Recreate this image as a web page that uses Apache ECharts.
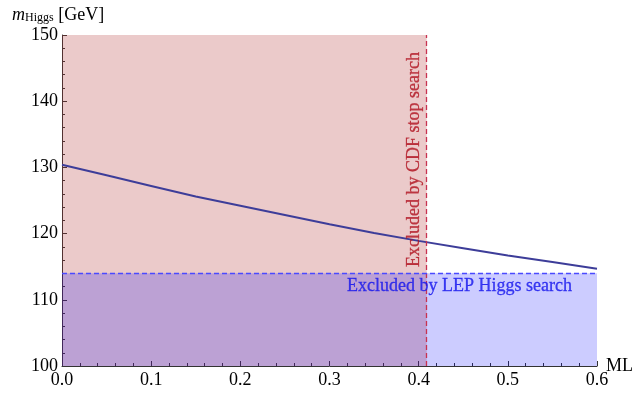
<!DOCTYPE html>
<html>
<head>
<meta charset="utf-8">
<script src="https://cdn.jsdelivr.net/npm/echarts@6/dist/echarts.min.js"></script>
<style>
  html, body { margin: 0; padding: 0; background: #fff; }
  #chart { width: 635px; height: 394px; }
</style>
</head>
<body>
<div id="chart"></div>
<script>
// Higgs mass prediction versus ML
const mlValues = [0, 0.05, 0.1, 0.15, 0.2, 0.25, 0.3, 0.35, 0.4, 0.45, 0.5, 0.55, 0.6];
const mHiggs   = [130.4, 128.8, 127.2, 125.6, 124.2, 122.8, 121.4, 120.1, 118.9, 117.8, 116.7, 115.7, 114.7];

// Excluded regions
const cdfLimitML = 0.409;   // CDF stop search bound on ML
const lepLimitMh = 114;     // LEP Higgs search bound in GeV

const xTicks = [0, 0.1, 0.2, 0.3, 0.4, 0.5, 0.6];
const yTicks = [100, 110, 120, 130, 140, 150];

const xAxisName = 'ML';
const cdfText = 'Excluded by CDF stop search';
const lepText = 'Excluded by LEP Higgs search';

const SERIF = '"Liberation Serif", "DejaVu Serif", serif';
const axisColor = '#333';

const curve = mlValues.map((x, i) => [x, mHiggs[i]]);
const xMax = xTicks[xTicks.length - 1];
const yMin = yTicks[0];
const yMax = yTicks[yTicks.length - 1];

const chart = echarts.init(document.getElementById('chart'));
chart.setOption({
  animation: false,
  backgroundColor: '#fff',
  textStyle: { fontFamily: SERIF },
  title: {
    left: 12, top: 2, padding: 0,
    text: '{m|m}{sub|Higgs} {u|[GeV]}',
    textStyle: {
      fontWeight: 'normal',
      rich: {
        m:   { fontFamily: SERIF, fontStyle: 'italic', fontWeight: 'normal', fontSize: 18, color: '#000', verticalAlign: 'bottom', lineHeight: 22 },
        sub: { fontFamily: SERIF, fontWeight: 'normal', fontSize: 12, color: '#000', verticalAlign: 'bottom', lineHeight: 12 },
        u:   { fontFamily: SERIF, fontWeight: 'normal', fontSize: 18, color: '#000', verticalAlign: 'bottom', lineHeight: 22 }
      }
    }
  },
  grid: { left: 62, right: 38, top: 35, bottom: 28, containLabel: false, outerBoundsMode: 'none' },
  xAxis: {
    type: 'value', min: xTicks[0], max: xMax, interval: 0.1,
    axisLine: { show: true, onZero: false, lineStyle: { color: axisColor, width: 1 } },
    axisTick: { show: true, inside: true, length: 5, lineStyle: { color: axisColor } },
    minorTick: { show: true, splitNumber: 5, length: 3, lineStyle: { color: axisColor } },
    splitLine: { show: false },
    axisLabel: { fontFamily: SERIF, fontSize: 18, color: '#000', margin: 5,
      formatter: v => v.toFixed(1) }
  },
  yAxis: {
    type: 'value', min: yMin, max: yMax, interval: 10,
    axisLine: { show: true, onZero: false, lineStyle: { color: axisColor, width: 1 } },
    axisTick: { show: true, inside: true, length: 5, lineStyle: { color: axisColor } },
    minorTick: { show: true, splitNumber: 5, length: 3, lineStyle: { color: axisColor } },
    splitLine: { show: false },
    axisLabel: { fontFamily: SERIF, fontSize: 18, color: '#000', margin: 4 }
  },
  series: [
    {
      name: 'mh', type: 'line', z: 2, data: curve, showSymbol: false, symbol: 'none',
      lineStyle: { color: '#3d3d99', width: 2 }
    },
    {
      name: 'cdfRegion', type: 'line', z: 3, data: [],
      markArea: {
        silent: true,
        itemStyle: { color: 'rgba(175,43,43,0.25)' },
        data: [[{ coord: [0, yMin] }, { coord: [cdfLimitML, yMax] }]]
      }
    },
    {
      name: 'lepRegion', type: 'line', z: 4, data: [],
      markArea: {
        silent: true,
        itemStyle: { color: 'rgba(0,0,255,0.2)' },
        data: [[{ coord: [0, yMin] }, { coord: [xMax, lepLimitMh] }]]
      }
    },
    {
      name: 'bounds', type: 'line', z: 5, data: [],
      markLine: {
        silent: true, symbol: 'none', label: { show: false },
        data: [
          [{ coord: [cdfLimitML, yMin], lineStyle: { color: '#c83250', type: [5, 3], width: 1.3 } },
           { coord: [cdfLimitML, yMax] }],
          [{ coord: [0, lepLimitMh], lineStyle: { color: '#4a4aff', type: [5, 3], width: 1.3 } },
           { coord: [xMax, lepLimitMh] }]
        ]
      }
    },
    {
      name: 'cdfLabel', type: 'scatter', z: 6, symbolSize: 0, silent: true,
      data: [[cdfLimitML, yMax]],
      label: {
        show: true, position: [0, 0], rotate: 90, align: 'right', verticalAlign: 'bottom',
        offset: [-17, -3], formatter: cdfText,
        textBorderColor: '#b0101e', textBorderWidth: 0.3,
        fontFamily: SERIF, fontSize: 18, color: '#b0101e'
      }
    },
    {
      name: 'lepLabel', type: 'scatter', z: 6, symbolSize: 0, silent: true,
      data: [[xMax, lepLimitMh]],
      label: {
        show: true, position: [0, 0], align: 'right', verticalAlign: 'top',
        offset: [-25, 4], formatter: lepText,
        textBorderColor: '#1414ee', textBorderWidth: 0.3,
        fontFamily: SERIF, fontSize: 18, color: '#1414ee'
      }
    }
  ]
});

// Axis name placed just past the end of the x axis
const axisEnd = chart.convertToPixel({ gridIndex: 0 }, [xMax, yMin]);
chart.setOption({
  graphic: [{
    type: 'text', x: axisEnd[0] + 9, y: axisEnd[1],
    style: { text: xAxisName, font: '18px ' + SERIF, fill: '#000',
             textAlign: 'left', textVerticalAlign: 'middle' }
  }]
});
</script>
</body>
</html>
